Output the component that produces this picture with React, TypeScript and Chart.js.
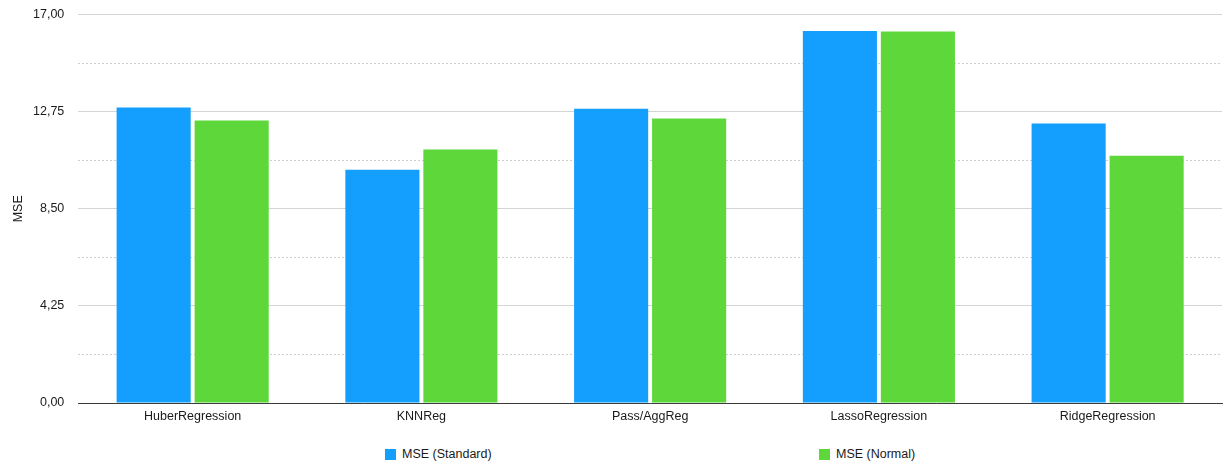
import React, { useEffect, useRef } from "react";
import { Chart, registerables } from "chart.js";

Chart.register(...registerables);

const categories = ["HuberRegression", "KNNReg", "Pass/AggReg", "LassoRegression", "RidgeRegression"];
const mseStandard = [12.93, 10.21, 12.88, 16.28, 12.23];
const mseNormal = [12.36, 11.09, 12.45, 16.26, 10.82];
const seriesLabels = ["MSE (Standard)", "MSE (Normal)"];
const seriesColors = ["#149FFE", "#5DD73A"];
const yMax = 17;
const yMajorStep = 4.25;
const yMinorStep = 2.125;

const FONT = "'Liberation Sans', Arial, Helvetica, sans-serif";

export default function App() {
  const canvasRef = useRef<HTMLCanvasElement>(null);

  useEffect(() => {
    document.body.style.margin = "0";
    const ctx = canvasRef.current!.getContext("2d")!;
    const chart = new Chart(ctx, {
      type: "bar",
      data: {
        labels: categories,
        datasets: [
          {
            label: seriesLabels[0],
            data: mseStandard,
            backgroundColor: seriesColors[0],
            categoryPercentage: 0.682,
            barPercentage: 0.95,
          },
          {
            label: seriesLabels[1],
            data: mseNormal,
            backgroundColor: seriesColors[1],
            categoryPercentage: 0.682,
            barPercentage: 0.95,
          },
        ],
      },
      options: {
        animation: false,
        responsive: false,
        maintainAspectRatio: false,
        layout: { padding: { top: 1, right: 1, bottom: 2, left: 11 } },
        plugins: {
          legend: { display: false },
          tooltip: { enabled: false },
        },
        scales: {
          x: {
            grid: { display: false, drawTicks: false },
            border: { display: true, color: "#3a3a3a", width: 1 },
            ticks: {
              color: "#1a1a1a",
              font: { family: FONT, size: 12.5 },
              padding: 6,
            },
          },
          y: {
            min: 0,
            max: yMax,
            position: "left",
            grid: { color: "#d4d4d4", drawTicks: false, lineWidth: 1 },
            border: { display: false },
            ticks: {
              stepSize: yMajorStep,
              color: "#1a1a1a",
              font: { family: FONT, size: 12.5 },
              padding: 14,
              callback: (v: any) => Number(v).toFixed(2).replace(".", ","),
            },
            title: {
              display: true,
              text: "MSE",
              color: "#1a1a1a",
              font: { family: FONT, size: 12.5 },
              padding: { top: 0, bottom: -7 },
            },
          },
          y2: {
            min: 0,
            max: yMax,
            position: "left",
            afterFit: (s: any) => {
              s.width = 0;
            },
            grid: {
              drawTicks: false,
              color: (c: any) => (c.index % 2 === 1 ? "#cfcfcf" : "rgba(0,0,0,0)"),
              lineWidth: 1,
            },
            border: { display: false, dash: [2, 2] },
            ticks: { display: false, stepSize: yMinorStep },
          },
        },
      },
    });
    return () => chart.destroy();
  }, []);

  const legendItem = (i: number, left: number) => (
    <div
      key={i}
      style={{
        position: "absolute",
        left,
        top: 447,
        display: "flex",
        alignItems: "center",
        fontFamily: FONT,
        fontSize: 12.5,
        color: "#1a1a1a",
        whiteSpace: "nowrap",
      }}
    >
      <span
        style={{
          display: "inline-block",
          width: 11,
          height: 11,
          background: seriesColors[i],
          marginRight: 6,
        }}
      />
      {seriesLabels[i]}
    </div>
  );

  return (
    <div style={{ position: "fixed", left: 0, top: 0, width: 1223, height: 462, background: "#fff", overflow: "hidden" }}>
      <canvas ref={canvasRef} width={1223} height={439} style={{ display: "block", marginTop: -7 }} />
      {legendItem(0, 385)}
      {legendItem(1, 819)}
    </div>
  );
}
